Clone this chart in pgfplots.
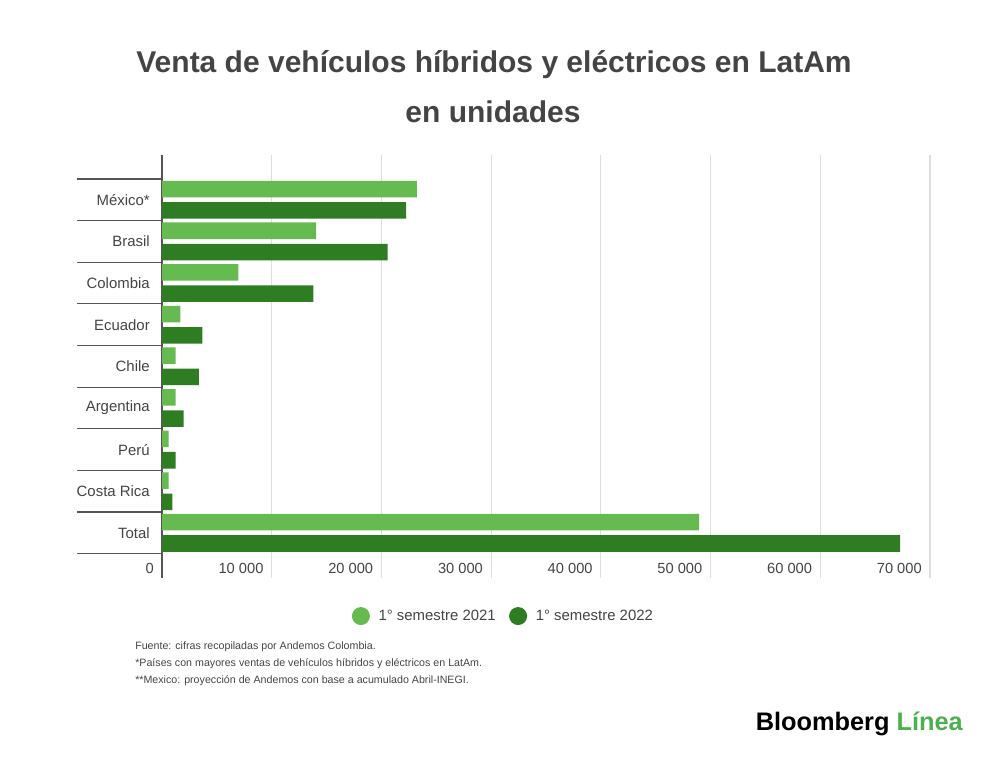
\documentclass[border=0pt]{standalone}
\usepackage{fontspec}
\setmainfont{Liberation Sans}
\usepackage{pgfplots}
\pgfplotsset{compat=1.18}
\definecolor{lightg}{HTML}{66BB50}
\definecolor{darkg}{HTML}{2E7D22}
\definecolor{txt}{HTML}{444444}
\definecolor{gridc}{HTML}{DDDDDD}
\definecolor{axc}{HTML}{555555}
\definecolor{logog}{HTML}{4CAF50}
\begin{document}
\begin{tikzpicture}
\path[use as bounding box] (0,0) rectangle (750pt,568.5pt);
\node[font=\fontsize{22.5}{26}\selectfont\bfseries, text=txt] at (370.5pt,519.75pt) {Venta de vehículos híbridos y eléctricos en LatAm};
\node[font=\fontsize{22.5}{26}\selectfont\bfseries, text=txt] at (369.75pt,484.5pt) {en unidades};
\begin{axis}[
 at={(121.5pt,135pt)}, anchor=south west,
 scale only axis, width=576pt, height=317.25pt,
 xbar, bar width=12.4pt,
 xmin=0, xmax=70000,
 ymin=-1.076, ymax=9.085, y dir=reverse,
 axis line style={draw=none},
 scaled x ticks=false,
 xtick={0,10000,...,70000},
 xticklabels={0,10 000,20 000,30 000,40 000,50 000,60 000,70 000},
 xmajorgrids, grid style={gridc, line width=0.8pt},
 extra x ticks={0}, extra x tick labels={},
 extra x tick style={grid style={axc, line width=1.5pt}},
 ytick={0,...,8},
 yticklabels={México*,Brasil,Colombia,Ecuador,Chile,Argentina,Perú,Costa Rica,Total},
 major tick length=0pt,
 ytick pos=left,
 extra y ticks={-0.5,0.5,...,8.5}, extra y tick labels={},
 extra y tick style={tick align=outside, major tick length=63.75pt, tick style={axc, line width=0.9pt}},
 yticklabel style={anchor=east, inner sep=0pt, xshift=-9pt, font=\fontsize{11.2}{13}\selectfont, text=txt},
 xticklabel style={anchor=east, inner sep=0pt, xshift=-6pt, yshift=7.5pt, font=\fontsize{11}{13}\selectfont, text=txt},
 legend style={at={(0.445,-0.09)}, anchor=center, draw=none, fill=none, legend columns=2,
   font=\fontsize{11.2}{13}\selectfont, text=txt,
   /tikz/every even column/.append style={column sep=8pt}},
 legend image code/.code={\fill[#1] (0pt,0pt) circle (6.75pt); \path (11.25pt,0pt);},
]
\addplot[fill=lightg, draw=none, bar shift=8pt] coordinates {
 (23220,0) (14040,1) (6960,2) (1670,3) (1250,4) (1250,5) (610,6) (610,7) (48950,8)};
\addplot[fill=darkg, draw=none, bar shift=-8pt] coordinates {
 (22240,0) (20570,1) (13800,2) (3680,3) (3370,4) (1980,5) (1250,6) (940,7) (67270,8)};
\legend{1° semestre 2021, 1° semestre 2022}
\end{axis}
\node[anchor=west, inner sep=0pt, font=\fontsize{8}{10}\selectfont, text=txt] at (101.25pt,83.25pt) {Fuente: cifras recopiladas por Andemos Colombia.};
\node[anchor=west, inner sep=0pt, font=\fontsize{8}{10}\selectfont, text=txt] at (101.25pt,70.5pt) {*Países con mayores ventas de vehículos híbridos y eléctricos en LatAm.};
\node[anchor=west, inner sep=0pt, font=\fontsize{8}{10}\selectfont, text=txt] at (101.25pt,57.75pt) {**Mexico: proyección de Andemos con base a acumulado Abril-INEGI.};
\node[anchor=east, inner sep=0pt, font=\fontsize{19}{22}\selectfont\bfseries] at (722.25pt,25.5pt) {Bloomberg \textcolor{logog}{Línea}};
\end{tikzpicture}
\end{document}
